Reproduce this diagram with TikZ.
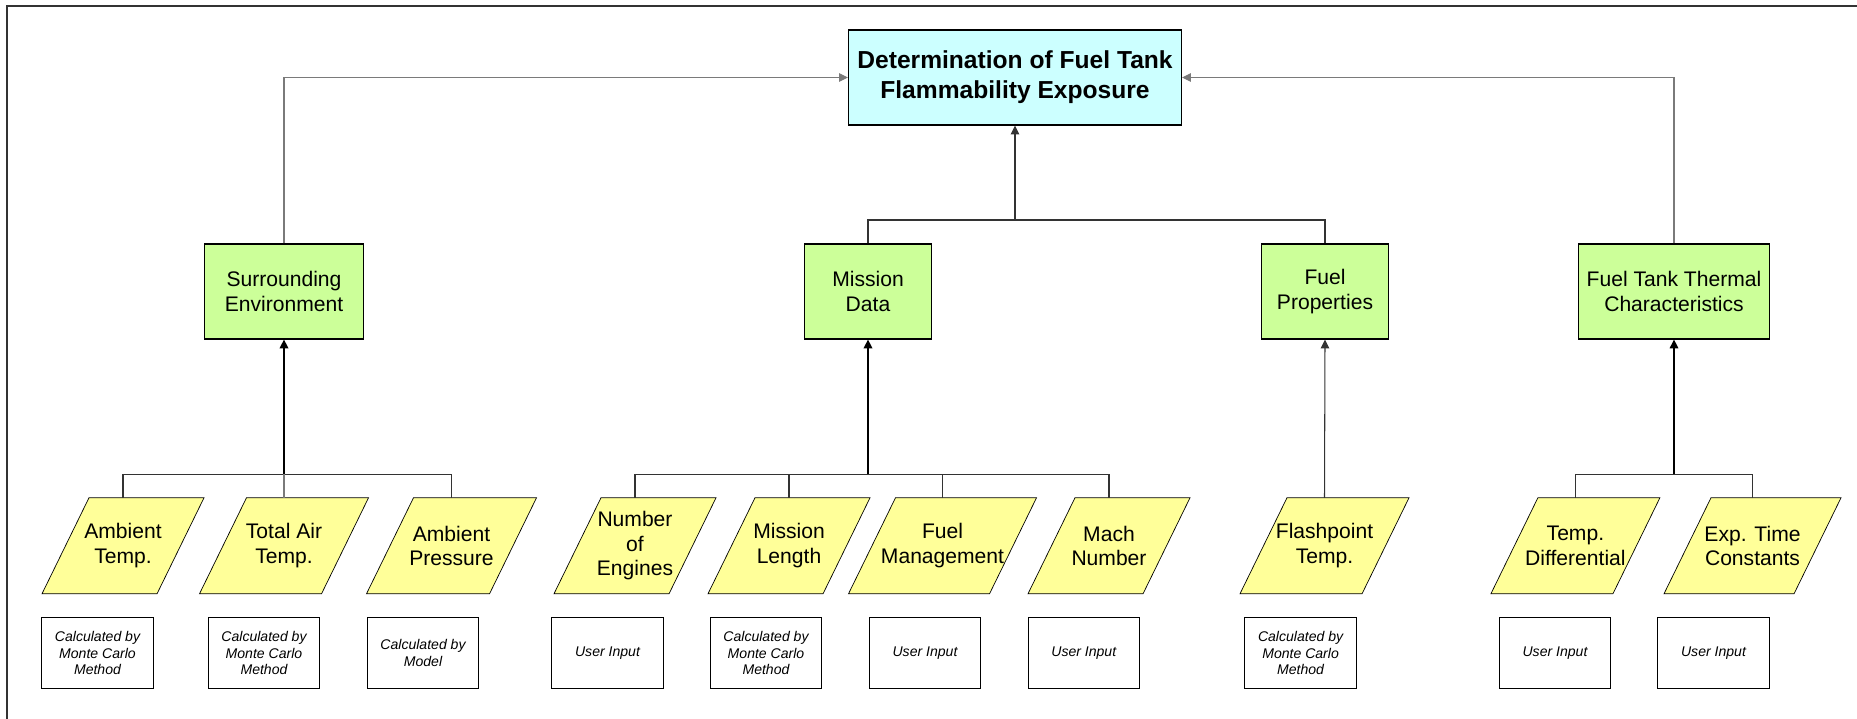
\documentclass[tikz,border=0pt]{standalone}
\usepackage{fontspec}
\setmainfont{Liberation Sans}
\usetikzlibrary{arrows.meta,backgrounds}
\definecolor{goalcyan}{HTML}{CCFFFF}
\definecolor{groupgreen}{HTML}{CCFF99}
\definecolor{inpyellow}{HTML}{FFFF99}
\definecolor{linegray}{HTML}{7A7A7A}
\definecolor{busgray}{HTML}{333333}

\begin{document}
\begin{tikzpicture}[
  x=0.02cm, y=-0.02cm, line width=0.6pt,
  goal/.style={draw, fill=goalcyan, minimum width=6.66cm, minimum height=1.9cm,
               align=center, font=\fontsize{14}{17}\selectfont\bfseries},
  group/.style={draw, fill=groupgreen, minimum width=#1, minimum height=1.9cm,
                align=center, font=\fontsize{12}{14}\selectfont},
  inp/.style={minimum width=#1, minimum height=1.9cm, inner sep=0pt,
              align=center, font=\fontsize{12}{14}\selectfont},
  note/.style={draw, minimum width=2.23cm, minimum height=1.43cm,
               align=center, font=\fontsize{8}{9.5}\selectfont\itshape},
  arr/.style={-{Triangle[length=5pt,width=4.8pt]}},
]
\useasboundingbox (0,0) rectangle (1857,719);

%% Frame (clipped on the right and at the bottom)
\draw[busgray] (7,719) |- (1857,6);

%% Goal
\node[goal] (goal) at (1015,77.5) {Determination of Fuel Tank\\Flammability Exposure};

%% Groups
\node[group=3.18cm] (env)   at (284,291.5)  {Surrounding\\Environment};
\node[group=2.54cm] (mis)   at (868,291.5)  {Mission\\Data};
\node[group=2.54cm] (fprop) at (1325,291.5) {Fuel\\Properties};
\node[group=3.82cm] (therm) at (1674,291.5) {Fuel Tank Thermal\\Characteristics};

%% Inputs (parallelograms drawn on the background below)
\node[inp=2.28cm] (amb)   at (123,545.8)    {Ambient\\Temp.};
\node[inp=2.42cm] (tat)   at (284,545.8)    {Total Air\\Temp.};
\node[inp=2.44cm] (pres)  at (451.5,545.8)  {Ambient\\Pressure};
\node[inp=2.28cm] (eng)   at (635,545.8)    {Number\\of\\Engines};
\node[inp=2.28cm] (mlen)  at (789,545.8)    {Mission\\Length};
\node[inp=2.80cm] (fmgt)  at (942.5,545.8)  {Fuel\\Management};
\node[inp=2.28cm] (mach)  at (1109,545.8)   {Mach\\Number};
\node[inp=2.42cm] (flash) at (1324.5,545.8) {Flashpoint\\Temp.};
\node[inp=2.42cm] (tdiff) at (1575.4,545.8) {Temp.\\Differential};
\node[inp=2.58cm] (expt)  at (1752.5,545.8) {Exp. Time\\Constants};

\begin{scope}[on background layer]
  \foreach \n in {amb,tat,pres,eng,mlen,fmgt,mach,flash,tdiff,expt}
    \filldraw[fill=inpyellow] ([xshift=-0.47cm]\n.south west) -- ([xshift=-0.47cm]\n.south east)
      -- ([xshift=0.47cm]\n.north east) -- ([xshift=0.47cm]\n.north west) -- cycle;
\end{scope}

%% Sources
\node[note] (ambsrc)   at (97.5,653.2)   {Calculated by\\Monte Carlo\\Method};
\node[note] (tatsrc)   at (264,653.2)    {Calculated by\\Monte Carlo\\Method};
\node[note] (pressrc)  at (423,653.2)    {Calculated by\\Model};
\node[note] (engsrc)   at (607.5,653.2)  {User Input};
\node[note] (mlensrc)  at (766,653.2)    {Calculated by\\Monte Carlo\\Method};
\node[note] (fmgtsrc)  at (925,653.2)    {User Input};
\node[note] (machsrc)  at (1083.8,653.2) {User Input};
\node[note] (flashsrc) at (1300.6,653.2) {Calculated by\\Monte Carlo\\Method};
\node[note] (tdiffsrc) at (1555,653.2)   {User Input};
\node[note] (exptsrc)  at (1713.5,653.2) {User Input};

%% Groups --> goal
\draw[arr, linegray] (env.north) |- (goal.west);
\draw[arr, linegray] (therm.north) |- (goal.east);
\coordinate (misjoin) at (goal.south |- 0,220);
\draw[busgray] (mis.north) |- (misjoin) -| (fprop.north);
\draw[arr, busgray] (misjoin) -- (goal.south);

%% Inputs --> groups
\coordinate (envbus) at (env.south |- 0,474.3);
\draw[busgray] (amb.north) |- (envbus) -| (pres.north);
\draw[linegray] (tat.north) -- (envbus);
\draw[arr, line width=1.1pt] (envbus) -- (env.south);

\coordinate (misbus) at (mis.south |- 0,474.3);
\draw[busgray] (eng.north) |- (misbus) -| (mach.north);
\draw[busgray] (mlen.north) -- (mlen.north |- misbus);
\draw[busgray] (fmgt.north) -- (fmgt.north |- misbus);
\draw[arr, line width=1.1pt] (misbus) -- (mis.south);

\draw[arr, busgray] (flash.north) -- (fprop.south);

\coordinate (thermbus) at (therm.south |- 0,474.3);
\draw[busgray] (tdiff.north) |- (thermbus) -| (expt.north);
\draw[arr, line width=0.9pt] (thermbus) -- (therm.south);

\end{tikzpicture}
\end{document}
